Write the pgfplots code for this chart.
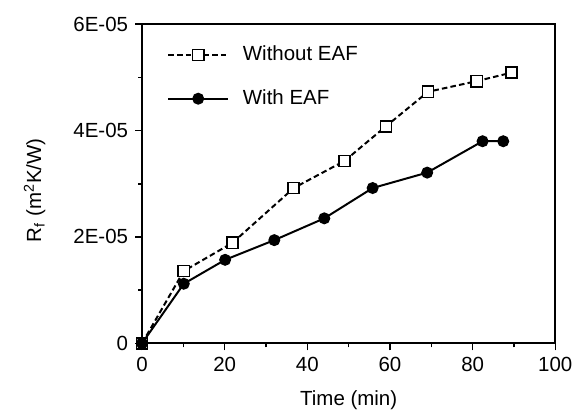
\documentclass[border=0pt]{standalone}
\usepackage{fontspec}
\setmainfont{Liberation Sans}
\usepackage{pgfplots}
\pgfplotsset{compat=1.18}

\begin{document}
\begin{tikzpicture}
\begin{axis}[
	width=208pt, height=160.6pt,
	scale only axis,
	xmin=0, xmax=100,
	ymin=0, ymax=6e-5,
	xtick={0,20,40,60,80,100},
	minor xtick={10,30,50,70,90},
	ytick={0,2e-5,4e-5,6e-5},
	yticklabels={0,2E-05,4E-05,6E-05},
	minor ytick={1e-5,3e-5,5e-5},
	scaled y ticks=false,
	tick align=outside,
	xtick pos=bottom, ytick pos=left,
	major tick length=3.5pt, minor tick length=2pt,
	every tick/.style={line width=0.8pt, black},
	axis line style={line width=1pt},
	/pgf/number format/assume math mode=true,
	tick label style={font=\fontsize{10.3}{12}\selectfont},
	label style={font=\fontsize{10.3}{12}\selectfont},
	xlabel={Time (min)},
	ylabel={R\textsubscript{f} (m\textsuperscript{2}K/W)},
	x label style={at={(axis description cs:0.5,-0.179)}, anchor=center},
	y label style={at={(axis description cs:-0.26,0.48)}, anchor=center},
	legend style={draw=none, fill=none, at={(axis description cs:0.046,0.835)}, anchor=west,
		row sep=9pt, column sep=5pt, font=\fontsize{10.3}{12}\selectfont},
	legend cell align=left,
	legend image code/.code={\draw[mark repeat=2,mark phase=2] plot coordinates {(0pt,0pt)(15pt,0pt)(30pt,0pt)};},
]
\addplot[black, line width=1pt, dash pattern=on 2.8pt off 1.6pt,
	mark=square*, mark size=2.8pt, mark options={solid, fill=white, line width=0.8pt}]
	coordinates {
	(0,0) (10.1,1.36e-5) (21.9,1.89e-5) (36.7,2.92e-5) (49.0,3.43e-5)
	(59.0,4.08e-5) (69.2,4.73e-5) (81.0,4.93e-5) (89.4,5.09e-5)
};
\addlegendentry{Without EAF}
\addplot[black, line width=1pt, mark=*, mark size=2.5pt]
	coordinates {
	(0,0) (10.1,1.12e-5) (20.1,1.57e-5) (32.0,1.94e-5) (44.1,2.35e-5)
	(55.8,2.92e-5) (69.0,3.21e-5) (82.4,3.80e-5) (87.4,3.80e-5)
};
\addlegendentry{With EAF}
\end{axis}
\path ([shift={(-71.5pt,-36.6pt)}]current axis.south west) rectangle ([shift={(10pt,12.2pt)}]current axis.north east);
\end{tikzpicture}
\end{document}
